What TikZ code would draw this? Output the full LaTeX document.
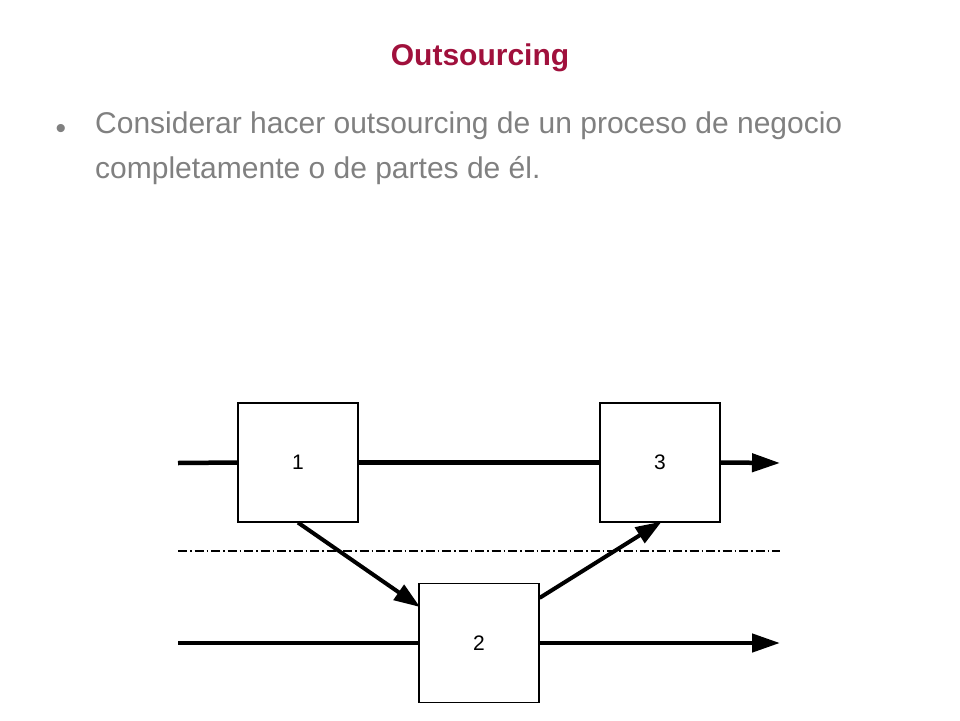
\documentclass[tikz,border=0pt]{standalone}
\usepackage{fontspec}
\setmainfont{Liberation Sans}
\usetikzlibrary{arrows.meta}
\definecolor{titlered}{HTML}{A0103C}
\definecolor{txtgray}{HTML}{808080}
\begin{document}
\begin{tikzpicture}[x=1pt,y=-1pt,
  blk/.style={draw,line width=1.2pt,minimum width=120pt,minimum height=119pt,inner sep=0pt,font=\fontsize{21}{21}\selectfont},
  flow/.style={line width=4.5pt},
  arr/.style={line width=4.5pt,-{Triangle[length=28pt,width=18pt]}},
  darr/.style={line width=4pt,-{Triangle[length=26pt,width=18pt]},shorten >=-2pt}]
\useasboundingbox (0,0) rectangle (960,720);
\node[font=\bfseries\fontsize{30}{30}\selectfont,color=titlered] (title) at (480,58) {Outsourcing};
\node[anchor=west,color=txtgray,font=\fontsize{30}{30}\selectfont] (bul) at (52,131) {•};
\node[anchor=north west,color=txtgray,align=left,
  font=\fontsize{30}{45}\selectfont,inner sep=0pt] (txt) at (95,112)
  {Considerar hacer outsourcing de un proceso de negocio\\completamente o de partes de él.};
\node[blk] (b1) at (298,462.5) {1};
\node[blk] (b3) at (660,462.5) {3};
\node[blk] (b2) at (479,643) {2};
\coordinate (s1) at (178,463);
\coordinate (e1) at (780,463);
\coordinate (s2) at (178,643);
\coordinate (e2) at (780,643);
\coordinate (dl) at (178,551);
\coordinate (dr) at (780,551);
\draw[flow] (s1) -- (b1.west);
\draw[flow] (b1.east) -- (b3.west);
\draw[arr] (b3.east) -- (e1);
\draw[flow] (s2) -- (b2.west);
\draw[arr] (b2.east) -- (e2);
\draw[line width=1.4pt,dash pattern=on 9pt off 3pt on 1.5pt off 3pt] (dl) -- (dr);
\draw[darr] (b1.south) -- ([yshift=-23pt]b2.north west);
\draw[darr] ([yshift=-15pt]b2.north east) -- (b3.south);
\end{tikzpicture}
\end{document}
